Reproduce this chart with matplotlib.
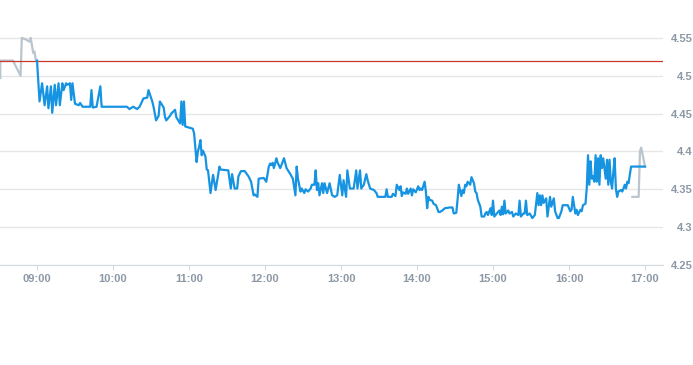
import matplotlib
matplotlib.use("Agg")
import matplotlib.pyplot as plt

# ---------------- data ----------------
prev_close = 4.52

pre_times = ["08:31", "08:31", "08:41", "08:47", "08:48", "08:51", "08:54",
             "08:55", "08:57", "08:58", "08:59", "09:00"]
pre_prices = [4.497, 4.520, 4.520, 4.500, 4.550, 4.548, 4.545,
              4.550, 4.530, 4.532, 4.521, 4.520]

post_times = ["16:50", "16:55", "16:56", "16:57", "17:00"]
post_prices = [4.340, 4.340, 4.400, 4.405, 4.380]

reg_times = [
    "09:00", "09:01", "09:02", "09:04", "09:06", "09:08", "09:09", "09:11", "09:12", "09:14",
    "09:15", "09:17", "09:18", "09:20", "09:21", "09:23", "09:24", "09:26", "09:27", "09:28",
    "09:30", "09:33", "09:34", "09:36", "09:38", "09:42", "09:43", "09:44", "09:47", "09:50",
    "09:51", "10:11", "10:13", "10:16", "10:19", "10:21", "10:24", "10:27", "10:28", "10:31",
    "10:32", "10:34", "10:36", "10:37", "10:40", "10:41", "10:42", "10:45", "10:46", "10:49",
    "10:50", "10:53", "10:54", "10:55", "10:56", "10:57", "11:01", "11:03", "11:04", "11:06",
    "11:07", "11:08", "11:09", "11:10", "11:11", "11:13", "11:14", "11:15", "11:17", "11:18",
    "11:19", "11:21", "11:23", "11:24", "11:25", "11:31", "11:33", "11:34", "11:36", "11:38",
    "11:39", "11:41", "11:44", "11:47", "11:49", "11:51", "11:52", "11:54", "11:55", "11:59",
    "12:01", "12:02", "12:03", "12:04", "12:05", "12:06", "12:07", "12:09", "12:10", "12:12",
    "12:13", "12:15", "12:17", "12:20", "12:22", "12:24", "12:25", "12:26", "12:28", "12:29",
    "12:31", "12:32", "12:34", "12:36", "12:37", "12:39", "12:40", "12:41", "12:42", "12:43",
    "12:45", "12:46", "12:47", "12:49", "12:51", "12:53", "12:55", "12:57", "12:59", "13:01",
    "13:02", "13:04", "13:05", "13:07", "13:10", "13:12", "13:13", "13:15", "13:16", "13:18",
    "13:20", "13:21", "13:23", "13:26", "13:28", "13:29", "13:35", "13:36", "13:37", "13:40",
    "13:41", "13:43", "13:44", "13:46", "13:47", "13:48", "13:49", "13:51", "13:52", "13:53",
    "13:55", "13:56", "13:57", "13:59", "14:01", "14:02", "14:03", "14:04", "14:06", "14:07",
    "14:08", "14:09", "14:10", "14:12", "14:13", "14:15", "14:17", "14:18", "14:20", "14:22",
    "14:26", "14:28", "14:29", "14:31", "14:32", "14:33", "14:35", "14:36", "14:37", "14:38",
    "14:39", "14:40", "14:42", "14:43", "14:45", "14:46", "14:47", "14:48", "14:50", "14:51",
    "14:53", "14:54", "14:55", "14:56", "14:58", "14:59", "15:00", "15:01", "15:03", "15:05",
    "15:06", "15:07", "15:08", "15:09", "15:10", "15:12", "15:13", "15:15", "15:16", "15:18",
    "15:20", "15:21", "15:22", "15:24", "15:25", "15:26", "15:27", "15:29", "15:31", "15:33",
    "15:35", "15:36", "15:37", "15:38", "15:39", "15:40", "15:42", "15:43", "15:45", "15:46",
    "15:48", "15:49", "15:51", "15:52", "15:54", "15:55", "15:57", "15:59", "16:01", "16:02",
    "16:03", "16:05", "16:06", "16:07", "16:09", "16:10", "16:11", "16:13", "16:14", "16:15",
    "16:16", "16:17", "16:18", "16:19", "16:20", "16:21", "16:22", "16:23", "16:24", "16:25",
    "16:26", "16:27", "16:29", "16:30", "16:31", "16:32", "16:33", "16:34", "16:35", "16:36",
    "16:37", "16:38", "16:39", "16:41", "16:42", "16:43", "16:44", "16:45", "16:46", "16:47",
    "16:49", "17:00",
]
reg_prices = [
    4.520, 4.494, 4.466, 4.490, 4.461, 4.486, 4.457, 4.486, 4.451, 4.488,
    4.461, 4.490, 4.461, 4.490, 4.481, 4.490, 4.488, 4.490, 4.468, 4.490,
    4.463, 4.461, 4.464, 4.459, 4.459, 4.459, 4.481, 4.458, 4.459, 4.486,
    4.459, 4.459, 4.456, 4.459, 4.456, 4.459, 4.470, 4.471, 4.481, 4.466,
    4.459, 4.441, 4.447, 4.466, 4.458, 4.446, 4.441, 4.447, 4.450, 4.455,
    4.445, 4.437, 4.466, 4.435, 4.466, 4.433, 4.431, 4.430, 4.424, 4.386,
    4.400, 4.406, 4.415, 4.395, 4.401, 4.393, 4.376, 4.375, 4.345, 4.358,
    4.369, 4.349, 4.369, 4.380, 4.376, 4.375, 4.351, 4.370, 4.351, 4.351,
    4.367, 4.374, 4.374, 4.367, 4.360, 4.342, 4.343, 4.340, 4.364, 4.365,
    4.360, 4.370, 4.380, 4.384, 4.382, 4.385, 4.378, 4.391, 4.385, 4.378,
    4.382, 4.391, 4.378, 4.370, 4.364, 4.342, 4.380, 4.364, 4.347, 4.351,
    4.345, 4.350, 4.347, 4.351, 4.356, 4.356, 4.375, 4.349, 4.358, 4.342,
    4.358, 4.345, 4.358, 4.345, 4.358, 4.342, 4.340, 4.342, 4.369, 4.342,
    4.362, 4.340, 4.375, 4.351, 4.351, 4.375, 4.351, 4.375, 4.351, 4.356,
    4.370, 4.362, 4.351, 4.349, 4.345, 4.340, 4.340, 4.350, 4.340, 4.340,
    4.344, 4.341, 4.356, 4.349, 4.354, 4.341, 4.346, 4.344, 4.351, 4.344,
    4.351, 4.342, 4.350, 4.346, 4.354, 4.349, 4.351, 4.349, 4.360, 4.347,
    4.325, 4.340, 4.336, 4.335, 4.331, 4.329, 4.320, 4.320, 4.322, 4.325,
    4.326, 4.326, 4.318, 4.319, 4.336, 4.356, 4.341, 4.349, 4.345, 4.356,
    4.354, 4.360, 4.356, 4.366, 4.358, 4.347, 4.345, 4.336, 4.327, 4.314,
    4.314, 4.318, 4.320, 4.316, 4.325, 4.316, 4.335, 4.314, 4.318, 4.322,
    4.316, 4.327, 4.317, 4.335, 4.318, 4.322, 4.318, 4.320, 4.314, 4.318,
    4.316, 4.335, 4.314, 4.318, 4.318, 4.335, 4.316, 4.318, 4.312, 4.316,
    4.345, 4.329, 4.342, 4.329, 4.342, 4.332, 4.338, 4.314, 4.340, 4.327,
    4.338, 4.321, 4.312, 4.312, 4.321, 4.329, 4.329, 4.329, 4.321, 4.323,
    4.340, 4.318, 4.323, 4.316, 4.323, 4.321, 4.329, 4.331, 4.351, 4.395,
    4.356, 4.387, 4.364, 4.367, 4.360, 4.395, 4.360, 4.391, 4.356, 4.395,
    4.378, 4.391, 4.364, 4.389, 4.356, 4.389, 4.360, 4.351, 4.373, 4.391,
    4.351, 4.340, 4.347, 4.349, 4.347, 4.351, 4.356, 4.351, 4.360, 4.358,
    4.380, 4.380,
]

x_tick_hours = [9, 10, 11, 12, 13, 14, 15, 16, 17]
x_tick_labels = ["09:00", "10:00", "11:00", "12:00", "13:00", "14:00", "15:00", "16:00", "17:00"]
y_ticks = [4.25, 4.30, 4.35, 4.40, 4.45, 4.50, 4.55]
y_tick_labels = ["4.25", "4.3", "4.35", "4.4", "4.45", "4.5", "4.55"]


def to_hours(ts):
    out = []
    for t in ts:
        h, m = t.split(":")
        out.append(int(h) + int(m) / 60.0)
    return out


# ---------------- figure ----------------
W, H, DPI = 693, 365, 100
fig = plt.figure(figsize=(W / DPI, H / DPI), dpi=DPI)
ax = fig.add_axes([0.0, 1 - 265 / H, 663 / W, 265 / H])

grid_c = "#e6e6e6"
label_c = "#8d98a6"
blue = "#1694e2"
grey = "#bac5cd"
red = "#c8392c"

ax.set_xlim(8 + 30.78 / 60, 17 + 14.2 / 60)
ax.set_ylim(4.25, 4.60)

for yv in y_ticks:
    ax.axhline(yv, color=grid_c, lw=1.0, zorder=0)

ax.plot(to_hours(pre_times), pre_prices, color=grey, lw=1.6, zorder=2,
        solid_joinstyle="round")
ax.plot(to_hours(post_times), post_prices, color=grey, lw=1.6, zorder=2,
        solid_joinstyle="round")
ax.axhline(prev_close, color=red, lw=0.9, zorder=3)
ax.plot(to_hours(reg_times), reg_prices, color=blue, lw=1.6, zorder=4,
        solid_joinstyle="round")

for s in ax.spines.values():
    s.set_visible(False)
ax.spines["bottom"].set_visible(True)
ax.spines["bottom"].set_color("#d5dae0")
ax.spines["bottom"].set_linewidth(0.8)

ax.set_xticks(x_tick_hours)
ax.set_xticklabels(x_tick_labels)
ax.tick_params(axis="x", length=3.5, width=0.8, color="#d5dae0", pad=3,
               labelsize=8, labelcolor=label_c)

ax.yaxis.tick_right()
ax.set_yticks(y_ticks)
ax.set_yticklabels(y_tick_labels)
ax.tick_params(axis="y", length=0, pad=21.5, labelsize=8, labelcolor=label_c)
for lab in ax.get_yticklabels():
    lab.set_horizontalalignment("right")

for lab in ax.get_xticklabels() + ax.get_yticklabels():
    lab.set_fontfamily(["Liberation Sans", "DejaVu Sans"])
    lab.set_fontweight("bold")

fig.savefig("out.png", dpi=DPI)
